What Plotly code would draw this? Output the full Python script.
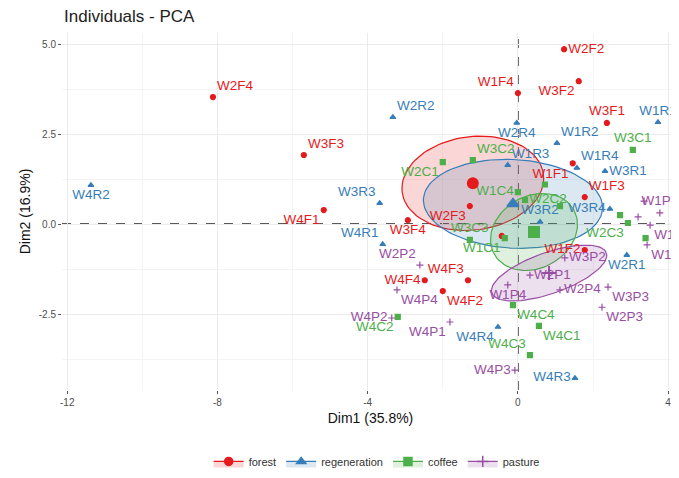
import numpy as np
import plotly.graph_objects as go

# ---------------- data (PCA individual coordinates) ----------------
groups = ["forest", "regeneration", "coffee", "pasture"]

forest_names = ["W1F1", "W1F2", "W1F3", "W1F4", "W2F1", "W2F2", "W2F3", "W2F4",
                "W3F1", "W3F2", "W3F3", "W3F4", "W4F1", "W4F2", "W4F3", "W4F4"]
forest_dim1 = [1.46, 1.78, 1.78, 0.00, -0.43, 1.23, -1.28, -8.12,
               2.37, 1.62, -5.70, -2.93, -5.17, -2.00, -1.33, -2.48]
forest_dim2 = [1.69, -0.72, 0.75, 3.64, -0.33, 4.86, 0.50, 3.53,
               2.81, 3.97, 1.92, 0.11, 0.39, -1.86, -1.56, -1.56]

regen_names = ["W1R1", "W1R2", "W1R3", "W1R4", "W2R1", "W2R2", "W2R3", "W2R4",
               "W3R1", "W3R2", "W3R3", "W3R4", "W4R1", "W4R2", "W4R3", "W4R4"]
regen_dim1 = [3.73, 1.04, -0.27, 1.57, 2.90, -3.33, 4.60, -0.03,
              2.32, 0.59, -3.68, 2.45, -3.60, -11.37, 1.52, -0.53]
regen_dim2 = [2.83, 2.25, 1.64, 1.56, -0.86, 2.97, -0.10, 2.81,
              1.47, 0.06, 0.58, 0.42, -0.56, 1.08, -4.28, -2.86]

coffee_names = ["W1C1", "W1C2", "W1C3", "W1C4", "W2C1", "W2C2", "W2C3", "W2C4",
                "W3C1", "W3C2", "W3C3", "W3C4", "W4C1", "W4C2", "W4C3", "W4C4"]
coffee_dim1 = [-0.35, 1.12, 2.72, 0.00, -2.00, 0.19, 2.93, 0.72,
               3.06, -1.20, -1.28, 3.40, 0.56, -3.20, 0.32, -0.13]
coffee_dim2 = [-0.39, 0.50, 0.25, 0.89, 1.72, 0.67, 0.03, 1.10,
               2.06, 1.78, -0.44, -0.39, -2.83, -2.58, -3.64, -2.25]

pasture_names = ["W1P1", "W1P2", "W1P3", "W1P4", "W2P1", "W2P2", "W2P3", "W2P4",
                 "W3P1", "W3P2", "W3P3", "W3P4", "W4P1", "W4P2", "W4P3", "W4P4"]
pasture_dim1 = [3.78, 3.52, 3.44, -0.27, 0.32, -2.61, 2.24, 1.12,
                3.20, 1.25, 2.40, 3.36, -1.81, -3.36, -0.08, -3.22]
pasture_dim2 = [0.31, -0.03, -0.58, -1.69, -1.42, -1.14, -2.31, -1.83,
                0.20, -0.94, -1.75, 0.64, -2.72, -2.61, -4.06, -1.83]

# labels that the repel step dropped (overlaps) in the reference
hidden_labels = ["W2F1", "W2R3", "W1C2", "W1C3", "W2C4", "W3C4", "W3P1", "W3P4"]

x_ticks = [-12, -8, -4, 0, 4]
x_tick_text = ["-12", "-8", "-4", "0", "4"]
y_ticks = [5.0, 2.5, 0.0, -2.5]
y_tick_text = ["5.0", "2.5", "0.0", "-2.5"]

# ---------------- style ----------------
colors = {"forest": "#E41A1C", "regeneration": "#377EB8",
          "coffee": "#4DAF4A", "pasture": "#984EA3"}
fills = {"forest": "rgba(228,26,28,0.18)", "regeneration": "rgba(55,126,184,0.18)",
         "coffee": "rgba(77,175,74,0.18)", "pasture": "rgba(152,78,163,0.18)"}
symbols = {"forest": "circle", "regeneration": "triangle-up",
           "coffee": "square", "pasture": "cross-thin"}

text_pos = {
    "forest": ["bottom left", "middle left", "top right", "top left", "top center",
               "middle right", "bottom left", "top right", "top center", "bottom left",
               "top right", "bottom center", "bottom left", "bottom right", "top left",
               "middle left"],
    "regeneration": ["top center", "top right", "top right", "top right", "bottom center",
                     "top right", "top center", "bottom center", "middle right", "top center",
                     "top left", "middle left", "top left", "bottom center", "middle left",
                     "bottom left"],
    "coffee": ["bottom left", "top center", "top center", "middle left", "bottom left",
               "middle right", "bottom left", "top center", "top center", "top right",
               "top center", "top center", "bottom right", "bottom left", "top left",
               "bottom right"],
    "pasture": ["top center", "bottom right", "bottom right", "bottom center", "middle right",
                "top left", "bottom right", "middle right", "top center", "middle right",
                "bottom right", "top center", "bottom left", "middle left", "middle left",
                "bottom right"],
}

data = {
    "forest": (forest_names, forest_dim1, forest_dim2),
    "regeneration": (regen_names, regen_dim1, regen_dim2),
    "coffee": (coffee_names, coffee_dim1, coffee_dim2),
    "pasture": (pasture_names, pasture_dim1, pasture_dim2),
}

CHI2_95_2DF = 5.991464547107979


def conf_ellipse(x, y, npoint=100):
    x = np.asarray(x, float)
    y = np.asarray(y, float)
    mu = np.array([x.mean(), y.mean()])
    cov = np.cov(np.vstack([x, y])) / len(x)
    vals, vecs = np.linalg.eigh(cov)
    t = np.linspace(0, 2 * np.pi, npoint)
    circ = np.vstack([np.cos(t), np.sin(t)])
    pts = vecs @ (np.sqrt(vals * CHI2_95_2DF)[:, None] * circ)
    return mu, mu[0] + pts[0], mu[1] + pts[1]


fig = go.Figure()
FONT = "Liberation Sans, Arial, Helvetica, sans-serif"

# confidence ellipses
means = {}
for g in groups:
    names, d1, d2 = data[g]
    mu, ex, ey = conf_ellipse(d1, d2)
    means[g] = mu
    fig.add_trace(go.Scatter(
        x=ex, y=ey, mode="lines", fill="toself", fillcolor=fills[g],
        line=dict(color=colors[g], width=1.2), name=g, legendgroup=g,
        showlegend=False, hoverinfo="skip"))

# individual points + labels
for g in groups:
    names, d1, d2 = data[g]
    labels = ["" if n in hidden_labels else n for n in names]
    fig.add_trace(go.Scatter(
        x=d1, y=d2, mode="markers+text", text=labels,
        textposition=text_pos[g],
        textfont=dict(color=colors[g], size=13.5, family=FONT),
        marker=dict(symbol=symbols[g], size=5, color=colors[g],
                    line=dict(color=colors[g], width=1.2)),
        name=g, legendgroup=g, showlegend=False, cliponaxis=True))

# group means
for g in groups:
    mu = means[g]
    fig.add_trace(go.Scatter(
        x=[mu[0]], y=[mu[1]], mode="markers",
        marker=dict(symbol=symbols[g], size=10, color=colors[g],
                    line=dict(color=colors[g], width=2)),
        name=g, legendgroup=g, showlegend=False))

# legend keys: filled box + symbol
for g in groups:
    fig.add_trace(go.Scatter(
        x=[None], y=[None], mode="lines+markers", fill="toself", fillcolor=fills[g],
        line=dict(color=colors[g], width=1.1),
        marker=dict(symbol=symbols[g], size=8, color=colors[g],
                    line=dict(color=colors[g], width=1.5)),
        name=g, legendgroup=g, showlegend=True, hoverinfo="skip"))

# The page adds an 8px body margin, so the figure is sized/margined to compensate.
fig.update_layout(
    width=671, height=470,
    margin=dict(l=54, r=0, t=25, b=88, autoexpand=False),
    paper_bgcolor="white", plot_bgcolor="white",
    font=dict(family=FONT, color="#333333"),
    title=dict(text="Individuals - PCA", xref="container", x=56 / 671, xanchor="left",
               yref="container", y=1 - 8 / 470, yanchor="middle",
               font=dict(size=17, color="#222222", family=FONT)),
    xaxis=dict(range=[-12.14, 4.29], tickvals=x_ticks, ticktext=x_tick_text,
               automargin=False,
               showgrid=True, gridcolor="#EBEBEB", gridwidth=1, zeroline=False,
               ticks="outside", ticklen=3, tickcolor="#555555",
               tickfont=dict(size=10, color="#4D4D4D"),
               minor=dict(tickvals=[-10, -6, -2, 2], showgrid=True,
                          gridcolor="#F4F4F4", gridwidth=0.6),
               title=dict(text="Dim1 (35.8%)", font=dict(size=14, color="#111111"),
                          standoff=6)),
    yaxis=dict(range=[-4.61, 5.31], tickvals=y_ticks, ticktext=y_tick_text,
               automargin=False,
               showgrid=True, gridcolor="#EBEBEB", gridwidth=1, zeroline=False,
               ticks="outside", ticklen=3, tickcolor="#555555",
               tickfont=dict(size=10, color="#4D4D4D"),
               minor=dict(tickvals=[3.75, 1.25, -1.25, -3.75], showgrid=True,
                          gridcolor="#F4F4F4", gridwidth=0.6),
               title=dict(text="Dim2 (16.9%)", font=dict(size=14, color="#111111"),
                          standoff=4)),
    legend=dict(orientation="h", x=0.51, xanchor="center", y=-0.2, yanchor="middle",
                font=dict(size=11, color="#333333"), itemwidth=30,
                bgcolor="rgba(0,0,0,0)"),
    shapes=[
        dict(type="line", xref="x", yref="paper", x0=0, x1=0, y0=0, y1=1,
             line=dict(color="#222222", width=1.5, dash="dash"), layer="below"),
        dict(type="line", xref="paper", yref="y", x0=0, x1=1, y0=0, y1=0,
             line=dict(color="#222222", width=1.5, dash="dash"), layer="below"),
    ],
)

fig.write_html("out.html")
